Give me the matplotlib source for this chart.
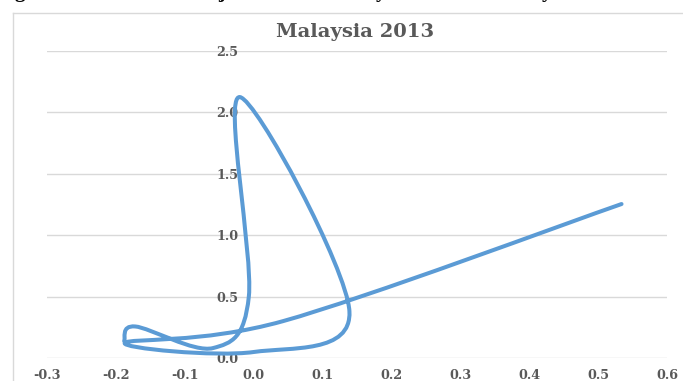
import matplotlib
matplotlib.use("Agg")
import matplotlib.pyplot as plt
from matplotlib.path import Path
from matplotlib.patches import PathPatch
from matplotlib.lines import Line2D

# Cycle trajectory points (x: growth gap, y: index level)
x_vals = [0.534, 0.043, -0.187, 0.000, 0.139, -0.020, -0.007, -0.059, -0.172, -0.188]
y_vals = [1.253, 0.300, 0.122, 0.048, 0.380, 2.124, 0.500, 0.080, 0.256, 0.138]

x_ticks = [-0.3, -0.2, -0.1, 0.0, 0.1, 0.2, 0.3, 0.4, 0.5, 0.6]
y_ticks = [0.0, 0.5, 1.0, 1.5, 2.0, 2.5]
title = "Malaysia 2013"

W, H = 683, 381
LINE_BLUE = "#5b9bd5"
GRID = "#d9d9d9"
LABEL = "#595959"
SERIF = "DejaVu Serif"


def smooth_path(xs, ys, k=1.0 / 6.0):
    """Cubic Bezier path through the points (Catmull-Rom style smoothing)."""
    pts = list(zip(xs, ys))
    n = len(pts)
    verts = [pts[0]]
    codes = [Path.MOVETO]
    for i in range(n - 1):
        p0 = pts[i - 1] if i > 0 else pts[i]
        p1 = pts[i]
        p2 = pts[i + 1]
        p3 = pts[i + 2] if i + 2 < n else pts[i + 1]
        c1 = (p1[0] + (p2[0] - p0[0]) * k, p1[1] + (p2[1] - p0[1]) * k)
        c2 = (p2[0] - (p3[0] - p1[0]) * k, p2[1] - (p3[1] - p1[1]) * k)
        verts += [c1, c2, p2]
        codes += [Path.CURVE4] * 3
    return Path(verts, codes)


fig = plt.figure(figsize=(W / 100, H / 100), dpi=100)
fig.patch.set_facecolor("white")

left, right = 47, 667
y_zero, y_top = 357.9, 50.9
ax = fig.add_axes([left / W, (H - y_zero) / H, (right - left) / W, (y_zero - y_top) / H])
ax.set_xlim(x_ticks[0], x_ticks[-1])
ax.set_ylim(y_ticks[0], y_ticks[-1])

for side in ("top", "right", "bottom"):
    ax.spines[side].set_visible(False)
ax.spines["left"].set_position(("data", 0))
ax.spines["left"].set_visible(False)

ax.set_axisbelow(True)
ax.yaxis.grid(True, color=GRID, lw=1.0)
ax.xaxis.grid(False)

ax.set_xticks(x_ticks)
ax.set_xticklabels([f"{v:.1f}" for v in x_ticks])
ax.set_yticks(y_ticks)
ax.set_yticklabels([f"{v:.1f}" for v in y_ticks])

ax.tick_params(axis="x", length=0, pad=8.0, labelsize=9.2, labelcolor=LABEL)
ax.tick_params(axis="y", length=0, pad=11, labelsize=9.2, labelcolor=LABEL)
for lab in ax.get_xticklabels() + ax.get_yticklabels():
    lab.set_fontfamily(SERIF)
    lab.set_fontweight("bold")

curve = PathPatch(smooth_path(x_vals, y_vals), transform=ax.transData,
                  facecolor="none", edgecolor=LINE_BLUE, lw=2.9,
                  capstyle="round", joinstyle="round", zorder=3)
ax.add_patch(curve)

fig.text(355 / W, 1 - 32 / H, title, ha="center", va="center",
         fontsize=14, fontweight="bold", family=SERIF, color=LABEL)

# chart-area frame (top and left edges)
fig.add_artist(Line2D([12.5 / W, 12.5 / W], [0, 1 - 12.5 / H],
                      transform=fig.transFigure, color=GRID, lw=1.0))
fig.add_artist(Line2D([12.5 / W, 1], [1 - 12.5 / H, 1 - 12.5 / H],
                      transform=fig.transFigure, color=GRID, lw=1.0))

# caption line above the chart, mostly outside the image
for ch, px in (("g", 20), ("j", 222), ("y", 381), ("y", 547)):
    fig.text(px / W, 1 + 3.0 / H, ch, ha="center", va="baseline",
             fontsize=15, fontweight="bold", family="Liberation Serif", color="black")

fig.savefig("out.png", dpi=100, facecolor="white")
